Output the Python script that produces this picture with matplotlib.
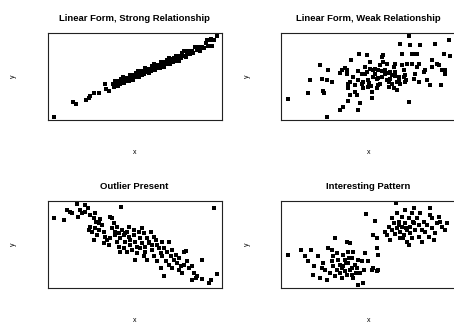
import matplotlib.pyplot as plt

# (x, y) values, arbitrary units: x 0..519, y 0..262
strong_pts = [
    (19, 10), (75, 55), (85, 49), (114, 60), (122, 67), (127, 72), (137, 82), (152, 82),
    (172, 110), (175, 93), (182, 87), (195, 108), (198, 99), (202, 117), (205, 107),
    (208, 117), (211, 102), (214, 114), (217, 110), (220, 124), (223, 114), (226, 129),
    (229, 112), (232, 121), (235, 127), (238, 118), (241, 128), (244, 119), (247, 136),
    (250, 127), (253, 136), (256, 121), (259, 134), (262, 129), (265, 143), (268, 133),
    (271, 149), (274, 131), (277, 140), (280, 147), (283, 137), (286, 147), (289, 138),
    (292, 156), (295, 146), (298, 155), (301, 141), (304, 153), (307, 148), (310, 162),
    (313, 153), (316, 168), (319, 150), (322, 160), (325, 166), (328, 156), (331, 167),
    (334, 158), (337, 175), (340, 165), (343, 175), (346, 160), (349, 172), (352, 168),
    (355, 182), (358, 172), (361, 187), (364, 170), (367, 179), (370, 185), (373, 176),
    (376, 186), (379, 177), (382, 194), (385, 185), (388, 194), (391, 179), (394, 192),
    (397, 187), (400, 201), (404, 192), (408, 208), (412, 190), (416, 200), (420, 207),
    (425, 198), (430, 209), (435, 201), (440, 219), (445, 210), (450, 221), (455, 207),
    (460, 220), (466, 217), (472, 232), (478, 224), (484, 240), (490, 224), (497, 240),
    (504, 253), (477, 240), (487, 245),
]

weak_pts = [
    (20, 62), (80, 80), (85, 120), (115, 165), (120, 125), (125, 88), (127, 82), (135, 120),
    (140, 152), (150, 115), (137, 10), (175, 30), (185, 38), (175, 142), (182, 150),
    (190, 158), (195, 150), (195, 140), (200, 110), (200, 95), (205, 115), (205, 75),
    (200, 58), (208, 180), (215, 130), (220, 105), (220, 85), (225, 75), (230, 30),
    (233, 198), (235, 52), (240, 110), (240, 140), (245, 95), (245, 115), (250, 160),
    (255, 195), (255, 145), (260, 100), (260, 120), (265, 175), (265, 155), (270, 85),
    (270, 65), (275, 150), (275, 130), (280, 140), (280, 155), (285, 95), (285, 125),
    (290, 105), (290, 150), (295, 165), (295, 110), (300, 190), (300, 130), (305, 195),
    (305, 175), (310, 150), (310, 140), (315, 120), (315, 170), (320, 115), (320, 100),
    (325, 125), (325, 145), (330, 135), (330, 110), (335, 160), (335, 95), (340, 170),
    (340, 145), (345, 115), (345, 90), (350, 120), (350, 130), (355, 230), (360, 165),
    (360, 200), (365, 130), (365, 150), (370, 135), (370, 115), (375, 170), (380, 55),
    (382, 252), (385, 225), (390, 200), (390, 170), (395, 125), (400, 140), (400, 200),
    (405, 200), (405, 160), (410, 115), (410, 170), (415, 225), (425, 145), (430, 150),
    (435, 120), (445, 105), (450, 180), (450, 160), (460, 230), (465, 170), (470, 165),
    (477, 105), (480, 150), (485, 200), (490, 150), (490, 140), (500, 240), (505, 193),
    (230, 120), (250, 138), (262, 112), (288, 128), (302, 148), (318, 142), (338, 132),
    (355, 108), (372, 122), (228, 148), (268, 102),
]

outlier_pts = [
    (19, 210), (49, 205), (57, 235), (67, 230), (72, 225), (87, 252), (92, 215), (97, 235),
    (102, 225), (112, 250), (110, 230), (120, 242), (127, 220), (137, 212), (142, 225),
    (144, 200), (152, 195), (157, 208), (122, 175), (127, 185), (132, 170), (142, 180),
    (137, 145), (147, 160), (152, 175), (162, 190), (167, 170), (172, 155), (167, 135),
    (177, 145), (182, 130), (187, 215), (192, 210), (192, 180), (197, 195), (202, 170),
    (202, 160), (207, 185), (207, 140), (212, 165), (212, 125), (217, 150), (217, 110),
    (220, 245), (222, 175), (227, 160), (227, 120), (232, 140), (237, 170), (237, 110),
    (242, 185), (242, 155), (247, 130), (247, 145), (252, 115), (257, 175), (257, 160),
    (262, 140), (262, 85), (267, 125), (267, 105), (272, 170), (277, 150), (277, 120),
    (282, 180), (282, 135), (287, 165), (287, 95), (292, 125), (292, 110), (297, 150),
    (297, 85), (302, 140), (307, 170), (312, 130), (312, 115), (317, 155), (317, 95),
    (322, 145), (327, 80), (327, 130), (332, 120), (337, 60), (337, 105), (342, 140),
    (342, 95), (347, 35), (347, 120), (352, 80), (357, 110), (362, 140), (362, 70),
    (367, 95), (372, 115), (372, 60), (377, 85), (382, 100), (387, 75), (392, 90),
    (392, 55), (397, 65), (402, 45), (407, 110), (407, 70), (412, 112), (417, 80),
    (422, 60), (432, 65), (432, 25), (437, 45), (442, 30), (447, 35), (462, 85), (462, 27),
    (482, 15), (487, 25), (497, 240), (504, 42), (187, 150), (232, 165), (262, 140),
    (302, 135),
]

pattern_pts = [
    # upper-right cloud
    (342, 255), (252, 222), (280, 202), (275, 160), (285, 150), (310, 170), (315, 160),
    (320, 185), (325, 145), (330, 175), (330, 210), (335, 195), (340, 162), (345, 225),
    (345, 180), (350, 200), (355, 150), (355, 170), (360, 215), (360, 185), (365, 160),
    (370, 235), (370, 195), (375, 175), (375, 140), (380, 210), (380, 130), (385, 185),
    (385, 165), (390, 225), (390, 150), (395, 195), (395, 240), (400, 175), (405, 210),
    (410, 155), (410, 190), (415, 225), (420, 175), (420, 140), (425, 200), (430, 170),
    (435, 190), (440, 155), (445, 240), (450, 210), (450, 180), (455, 145), (460, 165),
    (465, 195), (470, 215), (475, 200), (480, 185), (490, 175), (495, 195), (445, 220),
    (352, 190), (372, 180), (392, 200), (362, 150),
    # lower-left cloud
    (20, 100), (58, 115), (70, 95), (80, 80), (88, 115), (95, 40), (98, 65), (110, 95),
    (115, 30), (120, 60), (125, 75), (130, 55), (135, 25), (140, 120), (145, 45),
    (150, 115), (150, 80), (155, 65), (155, 95), (160, 150), (160, 35), (165, 105),
    (165, 55), (170, 85), (175, 70), (175, 45), (180, 30), (185, 100), (185, 65),
    (190, 85), (190, 50), (195, 140), (195, 40), (200, 110), (200, 75), (205, 135),
    (205, 55), (210, 90), (210, 40), (215, 110), (215, 30), (220, 70), (225, 60),
    (230, 85), (230, 10), (235, 45), (240, 80), (245, 15), (248, 55), (250, 105),
    (260, 80), (270, 55), (275, 60), (285, 120), (285, 50), (290, 55), (290, 98),
    (182, 60), (192, 75), (212, 60), (222, 45), (202, 90),
]

titles = ['Linear Form, Strong Relationship', 'Linear Form, Weak Relationship',
          'Outlier Present', 'Interesting Pattern']
datasets = [strong_pts, weak_pts, outlier_pts, pattern_pts]

fig = plt.figure(figsize=(4.54, 3.23), dpi=100)
plt.rcParams['font.family'] = ['Liberation Sans', 'DejaVu Sans']

# axes boxes in figure fractions
lefts = [0.105, 0.6196]
bottoms = [0.6285, 0.1084]

for i, (title, pts) in enumerate(zip(titles, datasets)):
    ax = fig.add_axes([lefts[i % 2], bottoms[i // 2], 0.383, 0.269])
    xs = [p[0] for p in pts]
    ys = [p[1] for p in pts]
    ax.plot(xs, ys, ls='none', marker='s', ms=3.5, mew=0, color='black')
    ax.set_xlim(0, 519)
    ax.set_ylim(0, 262)
    ax.set_xticks([])
    ax.set_yticks([])
    for s in ax.spines.values():
        s.set_linewidth(0.8)
        s.set_color('#222222')
    ax.set_title(title, fontsize=6.8, fontweight='bold', pad=9)
    ax.set_xlabel('x', fontsize=5, labelpad=21)
    ax.set_ylabel('y', fontsize=5, labelpad=22)

fig.savefig('out.png', dpi=100)
